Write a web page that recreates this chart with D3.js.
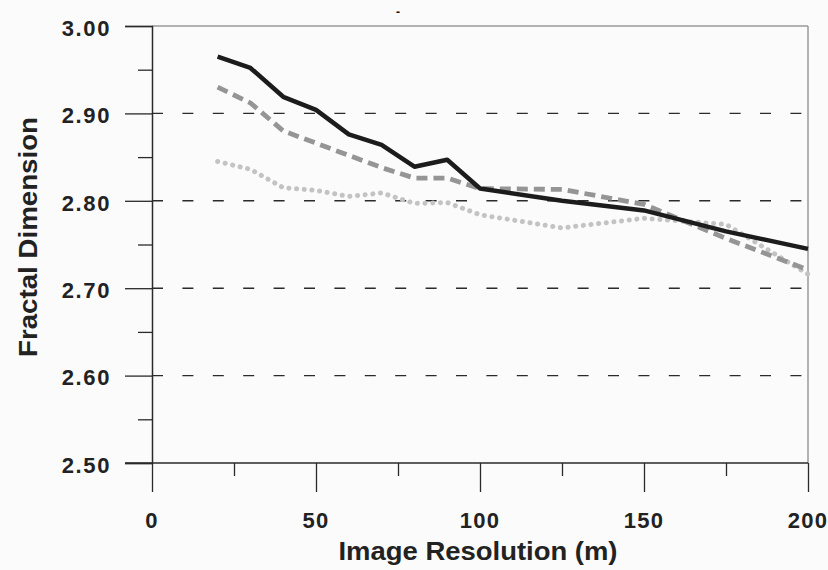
<!DOCTYPE html>
<html>
<head>
<meta charset="utf-8">
<script src="https://cdn.jsdelivr.net/npm/d3@7"></script>
<style>
  html, body { margin: 0; padding: 0; background: #fbfbfb; }
  svg { display: block; }
</style>
</head>
<body>
<svg id="chart" width="828" height="570"></svg>
<script>
// Image resolution (m) at which the fractal dimension was computed
const resolutions = [20, 30, 40, 50, 60, 70, 80, 90, 100, 125, 150, 175, 200];

// Fractal dimension series
const seriesSolid  = [2.965, 2.952, 2.919, 2.904, 2.876, 2.864, 2.839, 2.847, 2.814, 2.800, 2.789, 2.765, 2.745];
const seriesDashed = [2.930, 2.912, 2.880, 2.866, 2.852, 2.838, 2.826, 2.826, 2.814, 2.813, 2.796, 2.757, 2.721];
const seriesDotted = [2.845, 2.836, 2.815, 2.812, 2.805, 2.809, 2.797, 2.798, 2.784, 2.769, 2.780, 2.773, 2.716];

// Axis ticks
const xTicks = [0, 50, 100, 150, 200];
const xMinorTicks = [25, 75, 125, 175];
const yTicks = [2.50, 2.60, 2.70, 2.80, 2.90, 3.00];
const yMinorTicks = [2.55, 2.65, 2.75, 2.85, 2.95];
const gridValues = [2.60, 2.70, 2.80, 2.90];

const xLabel = "Image Resolution (m)";
const yLabel = "Fractal Dimension";

const svg = d3.select("#chart");
const plot = { left: 152, right: 808, top: 26, bottom: 463 };

const x = d3.scaleLinear().domain([0, 200]).range([plot.left, plot.right]);
const y = d3.scaleLinear().domain([2.5, 3.0]).range([plot.bottom, plot.top]);

const axisColor = "#2a2a2a";
const frameColor = "#9a9a9a";
const textColor = "#222";

// Frame: top and right edges
svg.append("line")
  .attr("x1", x(0)).attr("x2", x(200)).attr("y1", y(3.0)).attr("y2", y(3.0))
  .attr("stroke", frameColor).attr("stroke-width", 1.5);
svg.append("line")
  .attr("x1", x(200)).attr("x2", x(200)).attr("y1", y(3.0)).attr("y2", y(2.5))
  .attr("stroke", frameColor).attr("stroke-width", 1.5);

// Dashed horizontal gridlines
svg.append("g").selectAll("line").data(gridValues).join("line")
  .attr("x1", x(0)).attr("x2", x(200))
  .attr("y1", d => y(d)).attr("y2", d => y(d))
  .attr("stroke", "#2b2b2b").attr("stroke-width", 1.4)
  .attr("stroke-dasharray", "11,19.4");

// Y axis with major and minor ticks
svg.append("g").attr("transform", `translate(${plot.left},0)`)
  .call(d3.axisLeft(y).tickValues(yTicks).tickSize(27).tickFormat(""))
  .call(g => g.select(".domain").attr("stroke", axisColor).attr("stroke-width", 1.5))
  .call(g => g.selectAll(".tick line").attr("stroke", axisColor).attr("stroke-width", 1.3));
svg.append("g").attr("transform", `translate(${plot.left},0)`)
  .call(d3.axisLeft(y).tickValues(yMinorTicks).tickSize(14).tickFormat(""))
  .call(g => g.select(".domain").remove())
  .call(g => g.selectAll(".tick line").attr("stroke", axisColor).attr("stroke-width", 1.3));

// X axis with major and minor ticks
svg.append("g").attr("transform", `translate(0,${plot.bottom})`)
  .call(d3.axisBottom(x).tickValues(xTicks).tickSize(29).tickFormat(""))
  .call(g => g.select(".domain").remove())
  .call(g => g.selectAll(".tick line").attr("stroke", axisColor).attr("stroke-width", 1.3));
svg.append("g").attr("transform", `translate(0,${plot.bottom})`)
  .call(d3.axisBottom(x).tickValues(xMinorTicks).tickSize(13).tickFormat(""))
  .call(g => g.select(".domain").remove())
  .call(g => g.selectAll(".tick line").attr("stroke", axisColor).attr("stroke-width", 1.3));
svg.append("line")
  .attr("x1", plot.left - 27).attr("x2", x(200))
  .attr("y1", plot.bottom).attr("y2", plot.bottom)
  .attr("stroke", axisColor).attr("stroke-width", 1.5);

// Tick labels
const tickFont = "'Liberation Sans', Arial, sans-serif";
svg.append("g").selectAll("text").data(yTicks).join("text")
  .attr("x", 111).attr("y", d => y(d) + 2)
  .attr("dy", "0.35em")
  .attr("text-anchor", "end")
  .attr("font-family", tickFont).attr("font-weight", "bold")
  .attr("font-size", 22).attr("letter-spacing", 1.6)
  .attr("fill", textColor)
  .text(d => d3.format(".2f")(d));

svg.append("g").selectAll("text").data(xTicks).join("text")
  .attr("x", d => x(d)).attr("y", 520)
  .attr("dy", "0.35em")
  .attr("text-anchor", "middle")
  .attr("font-family", tickFont).attr("font-weight", "bold")
  .attr("font-size", 22).attr("letter-spacing", 1.2)
  .attr("fill", textColor)
  .text(d => d);

// Axis titles
svg.append("text")
  .attr("x", 478).attr("y", 560)
  .attr("text-anchor", "middle")
  .attr("font-family", tickFont).attr("font-weight", "bold")
  .attr("font-size", 26)
  .attr("textLength", 279).attr("lengthAdjust", "spacingAndGlyphs")
  .attr("fill", textColor)
  .text(xLabel);

svg.append("text")
  .attr("transform", "translate(37,237) rotate(-90)")
  .attr("text-anchor", "middle")
  .attr("font-family", tickFont).attr("font-weight", "bold")
  .attr("font-size", 26)
  .attr("textLength", 240).attr("lengthAdjust", "spacingAndGlyphs")
  .attr("fill", textColor)
  .text(yLabel);

// Small mark above the plot
svg.append("text")
  .attr("x", 398).attr("y", 16)
  .attr("text-anchor", "middle")
  .attr("font-family", tickFont).attr("font-weight", "bold")
  .attr("font-size", 12)
  .attr("fill", "#111")
  .text("-");

// Series lines
const line = d3.line()
  .x((d, i) => x(resolutions[i]))
  .y(d => y(d));

svg.append("path").datum(seriesDotted)
  .attr("d", line)
  .attr("fill", "none")
  .attr("stroke", "#c3c3c3").attr("stroke-width", 5)
  .attr("stroke-linecap", "round")
  .attr("stroke-dasharray", "0.1,7.6");

svg.append("path").datum(seriesDashed)
  .attr("d", line)
  .attr("fill", "none")
  .attr("stroke", "#959595").attr("stroke-width", 4.8)
  .attr("stroke-dasharray", "11,6");

svg.append("path").datum(seriesSolid)
  .attr("d", line)
  .attr("fill", "none")
  .attr("stroke", "#1c1c1c").attr("stroke-width", 4.5)
  .attr("stroke-linejoin", "round");
</script>
</body>
</html>
